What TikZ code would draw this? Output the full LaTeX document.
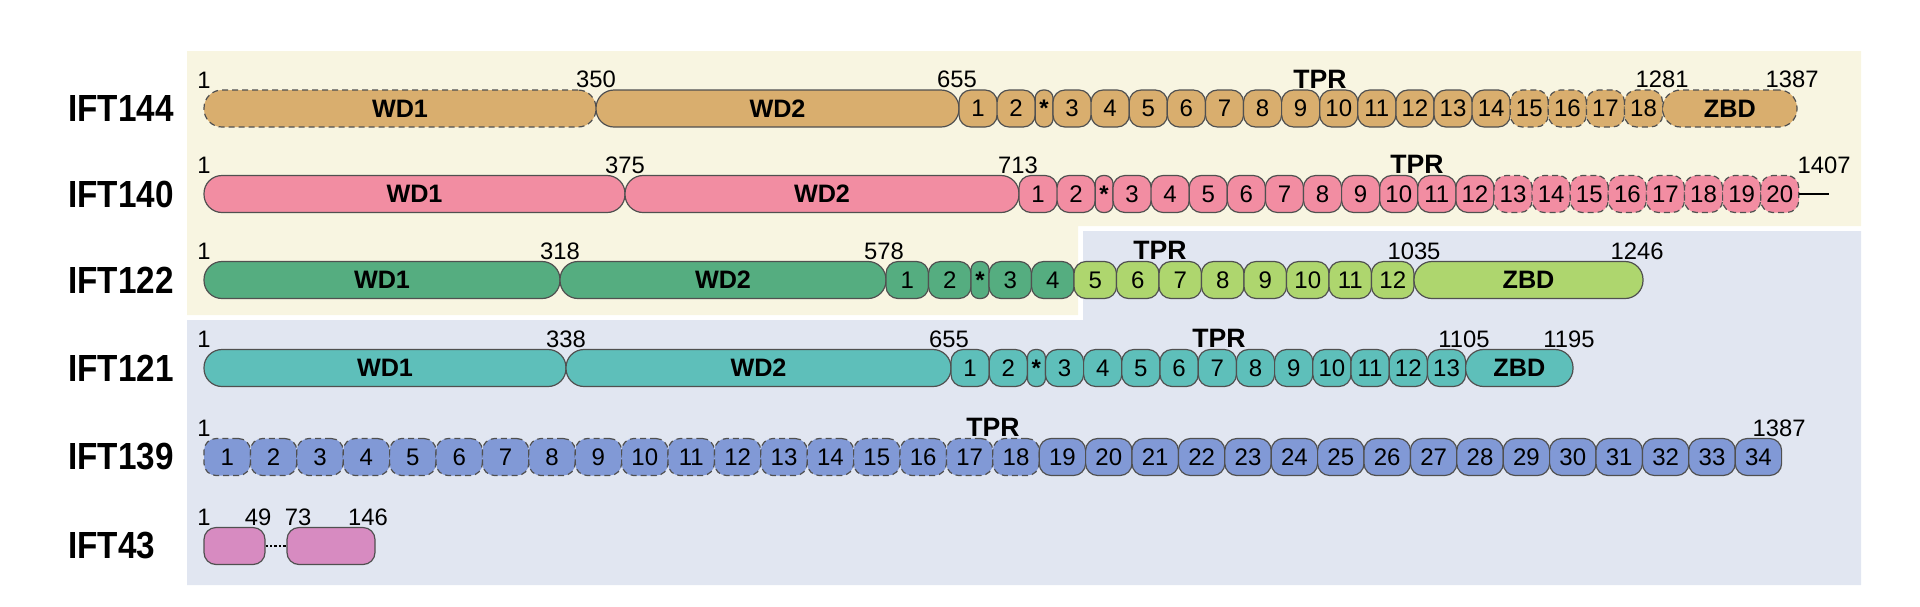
\documentclass[tikz,border=0pt]{standalone}
\usepackage{fontspec}
\setmainfont{Liberation Sans}
\newfontfamily\lblfont[FakeStretch=0.88]{Liberation Sans}
\definecolor{edge}{HTML}{505050}
\definecolor{bgy}{HTML}{F8F5E1}
\definecolor{bgb}{HTML}{E1E6F1}
\definecolor{tan}{HTML}{D9AE6E}
\definecolor{pnk}{HTML}{F28DA2}
\definecolor{dgr}{HTML}{55AD80}
\definecolor{lgr}{HTML}{AED66E}
\definecolor{teal}{HTML}{5EBFBA}
\definecolor{blu}{HTML}{8199D6}
\definecolor{mag}{HTML}{D78BC1}
\tikzset{
  seg/.style={draw=edge, line width=0.6pt, inner sep=0pt, minimum height=18.5pt,
    rounded corners=6pt, font=\fontsize{12}{12}\selectfont},
  big/.style={seg, rounded corners=9pt, font=\bfseries\fontsize{12.6}{13}\selectfont},
  dsh/.style={densely dashed},
  numlbl/.style={anchor=south, inner sep=0pt, font=\fontsize{11.9}{12}\selectfont},
  tprlbl/.style={anchor=south, inner sep=0pt, font=\bfseries\fontsize{13.3}{14}\selectfont},
  rowlbl/.style={anchor=west, inner sep=0pt, font=\lblfont\bfseries\fontsize{18.9}{19}\selectfont}
}
\newcommand\dom[6]{\node[#5, minimum width={((#3)-(#2))*0.5pt}] (#1) at ({((#2)+(#3))/2},#4) {#6};}
\newcommand\reps[7]{\foreach \i in {#5,...,#6}{\dom{#1-\i}{#3+(\i-#5)*#4}{#3+(\i-#5+1)*#4}{#2}{#7}{\i}}}
\newcommand\lab[5]{\node[#5] (#1) at (#2,{#3-20}) {#4};}
\begin{document}
\begin{tikzpicture}[x=0.5pt,y=-0.5pt]
\useasboundingbox (0,0) rectangle (1920,606);
\fill[bgy] (187,51) -- (1861,51) -- (1861,226) -- (1078,226) -- (1078,315) -- (187,315) -- cycle;
\fill[bgb] (1083,231) -- (1861,231) -- (1861,585) -- (187,585) -- (187,320) -- (1083,320) -- cycle;
% IFT144
\node[rowlbl] (n144) at (68,108.5) {IFT144};
\dom{a144}{204}{596}{108.5}{big,dsh,fill=tan}{WD1}
\dom{b144}{596}{959}{108.5}{big,fill=tan}{WD2}
\reps{r144}{108.5}{959}{38.1}{1}{2}{seg,fill=tan}
\dom{s144}{1035.2}{1053}{108.5}{seg,rounded corners=4pt,fill=tan}{\bfseries*}
\reps{r144}{108.5}{1053}{38.1}{3}{14}{seg,fill=tan}
\reps{r144}{108.5}{1510.2}{38.1}{15}{18}{seg,dsh,fill=tan}
\dom{z144}{1662.6}{1797}{108.5}{big,dsh,fill=tan}{ZBD}
\lab{l144a}{204}{108.5}{1}{numlbl}
\lab{l144b}{596}{108.5}{350}{numlbl}
\lab{l144c}{957}{108.5}{655}{numlbl}
\lab{l144t}{1320}{108.5}{TPR}{tprlbl}
\lab{l144d}{1662}{108.5}{1281}{numlbl}
\lab{l144e}{1792}{108.5}{1387}{numlbl}
% IFT140
\node[rowlbl] (n140) at (68,194) {IFT140};
\dom{a140}{204}{625}{194}{big,fill=pnk}{WD1}
\dom{b140}{625}{1019}{194}{big,fill=pnk}{WD2}
\reps{r140}{194}{1019}{38.1}{1}{2}{seg,fill=pnk}
\dom{s140}{1095.2}{1113}{194}{seg,rounded corners=4pt,fill=pnk}{\bfseries*}
\reps{r140}{194}{1113}{38.1}{3}{12}{seg,fill=pnk}
\reps{r140}{194}{1494}{38.1}{13}{20}{seg,dsh,fill=pnk}
\coordinate (e140) at (1829,194);
\draw[line width=1.2pt] (r140-20.east) -- (e140);
\lab{l140a}{204}{194}{1}{numlbl}
\lab{l140b}{625}{194}{375}{numlbl}
\lab{l140c}{1018}{194}{713}{numlbl}
\lab{l140t}{1417}{194}{TPR}{tprlbl}
\lab{l140d}{1824}{194}{1407}{numlbl}
% IFT122
\node[rowlbl] (n122) at (68,280) {IFT122};
\dom{a122}{204}{560}{280}{big,fill=dgr}{WD1}
\dom{b122}{560}{886}{280}{big,fill=dgr}{WD2}
\reps{r122}{280}{886}{42.5}{1}{2}{seg,fill=dgr}
\dom{s122}{971}{989}{280}{seg,rounded corners=4pt,fill=dgr}{\bfseries*}
\reps{r122}{280}{989}{42.5}{3}{4}{seg,fill=dgr}
\reps{r122}{280}{1074}{42.5}{5}{12}{seg,fill=lgr}
\dom{z122}{1414}{1643}{280}{big,fill=lgr}{ZBD}
\lab{l122a}{204}{280}{1}{numlbl}
\lab{l122b}{560}{280}{318}{numlbl}
\lab{l122c}{884}{280}{578}{numlbl}
\lab{l122t}{1160}{280}{TPR}{tprlbl}
\lab{l122d}{1414}{280}{1035}{numlbl}
\lab{l122e}{1637}{280}{1246}{numlbl}
% IFT121
\node[rowlbl] (n121) at (68,368) {IFT121};
\dom{a121}{204}{566}{368}{big,fill=teal}{WD1}
\dom{b121}{566}{951}{368}{big,fill=teal}{WD2}
\reps{r121}{368}{951}{38.2}{1}{2}{seg,fill=teal}
\dom{s121}{1027.4}{1045.4}{368}{seg,rounded corners=4pt,fill=teal}{\bfseries*}
\reps{r121}{368}{1045.4}{38.2}{3}{13}{seg,fill=teal}
\dom{z121}{1465.6}{1573}{368}{big,fill=teal}{ZBD}
\lab{l121a}{204}{368}{1}{numlbl}
\lab{l121b}{566}{368}{338}{numlbl}
\lab{l121c}{949}{368}{655}{numlbl}
\lab{l121t}{1219}{368}{TPR}{tprlbl}
\lab{l121d}{1464}{368}{1105}{numlbl}
\lab{l121e}{1569}{368}{1195}{numlbl}
% IFT139
\node[rowlbl] (n139) at (68,457) {IFT139};
\reps{r139}{457}{204}{46.4}{1}{18}{seg,dsh,fill=blu}
\reps{r139}{457}{1039.2}{46.4}{19}{34}{seg,fill=blu}
\lab{l139a}{204}{457}{1}{numlbl}
\lab{l139t}{993}{457}{TPR}{tprlbl}
\lab{l139b}{1779}{457}{1387}{numlbl}
% IFT43
\node[rowlbl] (n43) at (68,546) {IFT43};
\dom{a43}{204}{265}{546}{seg,fill=mag}{}
\dom{b43}{287}{375}{546}{seg,fill=mag}{}
\draw[densely dotted, line width=1.2pt] (a43.east) -- (b43.west);
\lab{l43a}{204}{546}{1}{numlbl}
\lab{l43b}{258}{546}{49}{numlbl}
\lab{l43c}{298}{546}{73}{numlbl}
\lab{l43d}{368}{546}{146}{numlbl}
\end{tikzpicture}
\end{document}
